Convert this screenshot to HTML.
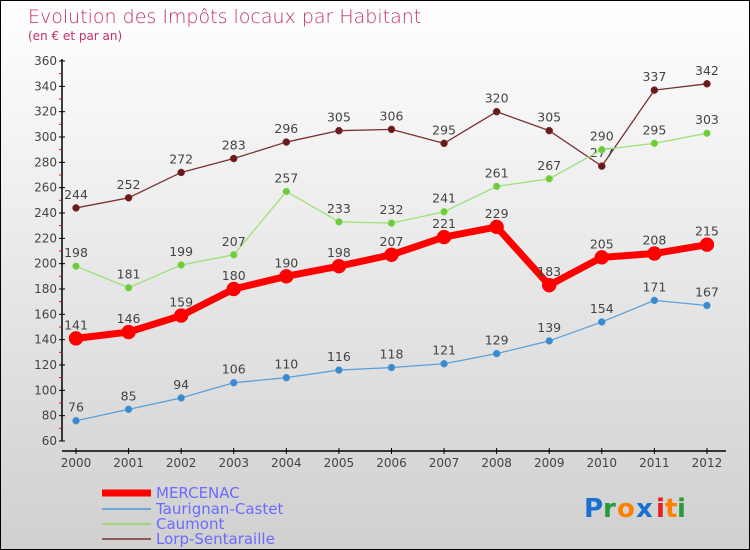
<!DOCTYPE html>
<html><head><meta charset="utf-8"><style>
body{margin:0}
#c{width:750px;height:550px;position:relative;box-sizing:border-box;border:1px solid #000;background:linear-gradient(#fff,#d0d0d0);font-family:"DejaVu Sans","Liberation Sans",sans-serif;overflow:hidden}
text{font-family:"DejaVu Sans","Liberation Sans",sans-serif}
</style></head><body>
<div id="c">
<svg id="s" width="750" height="550">
<text x="27" y="22" font-size="19" fill="#c0306a" style="font-weight:200">Evolution des Impôts locaux par Habitant</text>
<text x="27" y="39" font-size="12" fill="#c0306a">(en € et par an)</text>
<g id="axes"></g><g id="series"></g>
<g>
<line x1="101" y1="492" x2="150" y2="492" stroke="#f00" stroke-width="7"/>
<text x="155" y="497" font-size="15" fill="#6a6aff">MERCENAC</text>
<line x1="101" y1="508" x2="150" y2="508" stroke="#6aa6d6" stroke-width="2"/>
<text x="155" y="513" font-size="15" fill="#6a6aff">Taurignan-Castet</text>
<line x1="101" y1="523" x2="150" y2="523" stroke="#9ed67a" stroke-width="2"/>
<text x="155" y="528" font-size="15" fill="#6a6aff">Caumont</text>
<line x1="101" y1="538" x2="150" y2="538" stroke="#8b5a5a" stroke-width="2"/>
<text x="155" y="543" font-size="15" fill="#6a6aff">Lorp-Sentaraille</text>
</g>
<g font-size="26" font-weight="bold">
<text x="583" y="516" fill="#1a70d0">P</text><text x="602" y="516" fill="#2a9a3a">r</text><text x="616" y="516" fill="#ff8000">o</text><text x="635" y="516" fill="#1a70d0">x</text><text x="655" y="516" fill="#e02020">i</text><text x="664" y="516" fill="#ff8000">t</text><text x="676" y="516" fill="#2a9a3a">i</text>
</g>
</svg></div>
<script>
const years=[2000,2001,2002,2003,2004,2005,2006,2007,2008,2009,2010,2011,2012];
const mercenac=[141,146,159,180,190,198,207,221,229,183,205,208,215];
const taurignan=[76,85,94,106,110,116,118,121,129,139,154,171,167];
const caumont=[198,181,199,207,257,233,232,241,261,267,290,295,303];
const lorp=[244,252,272,283,296,305,306,295,320,305,277,337,342];
const yTicks=[60,80,100,120,140,160,180,200,220,240,260,280,300,320,340,360];
const NS="http://www.w3.org/2000/svg";
const X=i=>75+i*52.58;
const Y=v=>440-(v-60)*380/300;
function mk(t,a,p){const e=document.createElementNS(NS,t);for(const k in a)e.setAttribute(k,a[k]);p.appendChild(e);return e;}
const ax=document.getElementById('axes');
let e=mk('line',{x1:61,y1:58,x2:61,y2:440,stroke:'#000','stroke-width':1.5},ax);


e=mk('line',{x1:61,y1:450,x2:725,y2:450,stroke:'#000','stroke-width':1.5},ax);


yTicks.forEach((v,i)=>{
  mk('line',{x1:58,y1:Y(v),x2:64,y2:Y(v),stroke:'#000'},ax);
  if(i<yTicks.length-1) mk('line',{x1:58,y1:Y(v+10),x2:61,y2:Y(v+10),stroke:'#f00'},ax);
  const t=mk('text',{x:56,y:Y(v)+4,'font-size':12,fill:'#444','text-anchor':'end'},ax);
  t.textContent=v;
  
  
});
years.forEach((y,i)=>{
  mk('line',{x1:X(i),y1:447,x2:X(i),y2:453,stroke:'#000'},ax);
  const t=mk('text',{x:X(i),y:466,'font-size':12,fill:'#444','text-anchor':'middle'},ax);
  t.textContent=y;
  
  
});
const sg=document.getElementById('series');
function draw(vals,col,dot,w,r,name){
  const g=mk('g',{},sg);
  
  
  mk('polyline',{points:vals.map((v,i)=>X(i)+','+Y(v)).join(' '),fill:'none',stroke:col,'stroke-width':w,'stroke-linejoin':'round'},g);
  vals.forEach((v,i)=>{
    const c=mk('circle',{cx:X(i),cy:Y(v),r:r,fill:dot,stroke:col,'stroke-width':0.5},g);
    
    
    const t=mk('text',{x:X(i),y:Y(v)-9,'font-size':12.5,fill:'#444','text-anchor':'middle'},g);
    t.textContent=v;
    
    
  });
}
draw(lorp,'#7a3030','#6a1a1a',1.3,3.5,'lorp');
draw(caumont,'#9ee07a','#6ccc3a',1.3,3.5,'caumont');
draw(taurignan,'#5ca0d8','#3a8ad0',1.3,3.5,'taurignan');
draw(mercenac,'#f00','#f00',7,7,'mercenac');
</script>
</body></html>
